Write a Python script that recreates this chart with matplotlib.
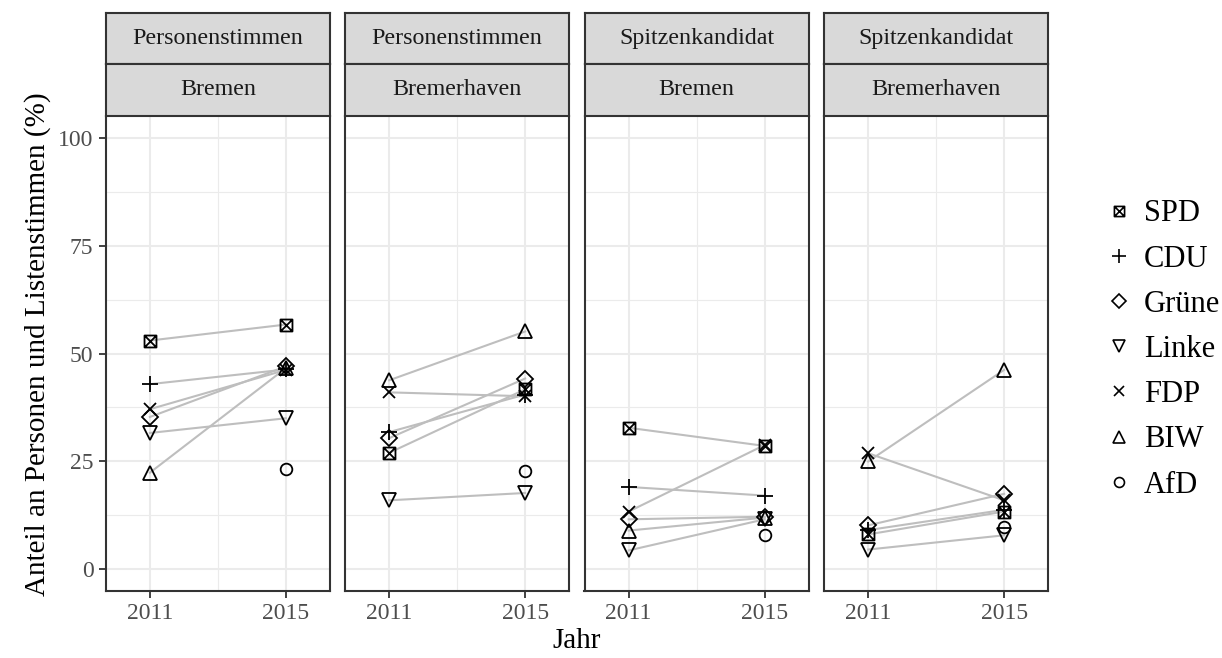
import numpy as np
import matplotlib

matplotlib.use("Agg")
import matplotlib.pyplot as plt
from matplotlib.path import Path
from matplotlib.lines import Line2D

plt.rcParams["font.family"] = ["Liberation Serif", "DejaVu Serif"]

# --- data -----------------------------------------------------------------
parties = ["SPD", "CDU", "Grüne", "Linke", "FDP", "BIW", "AfD"]
years = [2011, 2015]
year_labels = ["2011", "2015"]

strip_top = ["Personenstimmen", "Personenstimmen", "Spitzenkandidat", "Spitzenkandidat"]
strip_bottom = ["Bremen", "Bremerhaven", "Bremen", "Bremerhaven"]

nan = np.nan
ps_bremen_2011 = [53.0, 42.9, 35.3, 31.6, 37.1, 22.4, nan]
ps_bremen_2015 = [56.7, 46.3, 47.0, 35.0, 46.2, 46.6, 23.3]
ps_bhv_2011 = [27.0, 31.8, 30.4, 16.0, 41.0, 43.8, nan]
ps_bhv_2015 = [41.7, 40.5, 44.2, 17.7, 40.1, 55.1, 22.8]
sk_bremen_2011 = [32.8, 19.1, 11.6, 4.4, 13.4, 9.0, nan]
sk_bremen_2015 = [28.6, 17.1, 12.2, 11.6, 28.8, 12.0, 7.9]
sk_bhv_2011 = [8.1, 9.1, 10.2, 4.6, 26.9, 25.0, nan]
sk_bhv_2015 = [13.4, 13.8, 17.5, 7.9, 16.0, 46.2, 9.9]

panels = [
    (ps_bremen_2011, ps_bremen_2015),
    (ps_bhv_2011, ps_bhv_2015),
    (sk_bremen_2011, sk_bremen_2015),
    (sk_bhv_2011, sk_bhv_2015),
]

# --- styling --------------------------------------------------------------
# square with a cross (ggplot shape 7)
boxx = Path(
    [(-1, -1), (1, -1), (1, 1), (-1, 1), (-1, -1), (-1, -1), (1, 1), (-1, 1), (1, -1)],
    [Path.MOVETO, Path.LINETO, Path.LINETO, Path.LINETO, Path.CLOSEPOLY,
     Path.MOVETO, Path.LINETO, Path.MOVETO, Path.LINETO],
)
markers = {
    "SPD": (boxx, 8.6),
    "CDU": ("+", 11.3),
    "Grüne": ("D", 8.0),
    "Linke": ("v", 10.0),
    "FDP": ("x", 9.1),
    "BIW": ("^", 10.0),
    "AfD": ("o", 8.4),
}

W, H = 1222, 658
fig = plt.figure(figsize=(W / 100, H / 100), dpi=100)

panel_left = [105.7, 345.0, 584.5, 824.0]
panel_w = 224.3
panel_top, panel_bot = 116.0, 591.0
strip_edges = [(13.3, 63.6), (63.6, 116.0)]

border = "#333333"


def fig_rect(x0, y_top, w, y_bot):
    return [x0 / W, 1 - y_bot / H, w / W, (y_bot - y_top) / H]


for i, (v11, v15) in enumerate(panels):
    x0 = panel_left[i]
    ax = fig.add_axes(fig_rect(x0, panel_top, panel_w, panel_bot))
    ax.set_xlim(2009.7, 2016.3)
    ax.set_ylim(-5, 105)
    ax.set_xticks(years)
    ax.set_xticklabels(year_labels)
    ax.set_xticks([2013], minor=True)
    ax.set_yticks([0, 25, 50, 75, 100])
    ax.set_yticks([12.5, 37.5, 62.5, 87.5], minor=True)
    ax.grid(True, which="major", color="#EBEBEB", lw=1.5, zorder=0)
    ax.grid(True, which="minor", color="#EBEBEB", lw=0.8, zorder=0)
    ax.set_axisbelow(True)
    ax.tick_params(which="minor", length=0)
    ax.tick_params(which="major", length=4.8, width=1.3, color=border,
                   labelsize=17, labelcolor="#4D4D4D", pad=4)
    if i > 0:
        ax.tick_params(axis="y", left=False, labelleft=False)
    for sp in ax.spines.values():
        sp.set_edgecolor(border)
        sp.set_linewidth(1.5)
        sp.set_zorder(5)
    ax.spines["top"].set_visible(False)

    for j, p in enumerate(parties):
        ax.plot(years, [v11[j], v15[j]], color="#BEBEBE", lw=1.5, zorder=2)
    for j, p in enumerate(parties):
        m, ms = markers[p]
        ax.plot(years, [v11[j], v15[j]], ls="none", marker=m, ms=ms,
                mfc="none", mec="black", mew=1.3, zorder=3)

    for (yt, yb), txt in zip(strip_edges, [strip_top[i], strip_bottom[i]]):
        sax = fig.add_axes(fig_rect(x0, yt, panel_w, yb))
        sax.set_facecolor("#D9D9D9")
        sax.set_xticks([])
        sax.set_yticks([])
        for sp in sax.spines.values():
            sp.set_edgecolor(border)
            sp.set_linewidth(1.5)
        sax.text(0.5, 0.5, txt, ha="center", va="center", fontsize=17.3,
                 color="#1A1A1A", transform=sax.transAxes)

fig.text(38 / W, 1 - 344 / H, "Anteil an Personen und Listenstimmen (%)",
         rotation=90, ha="center", va="center", fontsize=21)
fig.text(577 / W, 1 - 641 / H, "Jahr", ha="center", va="center", fontsize=21)

handles = [
    Line2D([], [], ls="none", marker=markers[p][0], ms=markers[p][1] * 0.85,
           mfc="none", mec="black", mew=1.2)
    for p in parties
]
fig.legend(handles, parties, loc="center left",
           bbox_to_anchor=(1104 / W, 1 - 349.5 / H), frameon=False,
           fontsize=22, handlelength=1.0, handletextpad=0.3,
           labelspacing=0.53, borderpad=0, borderaxespad=0)

fig.savefig("out.png", dpi=100)
